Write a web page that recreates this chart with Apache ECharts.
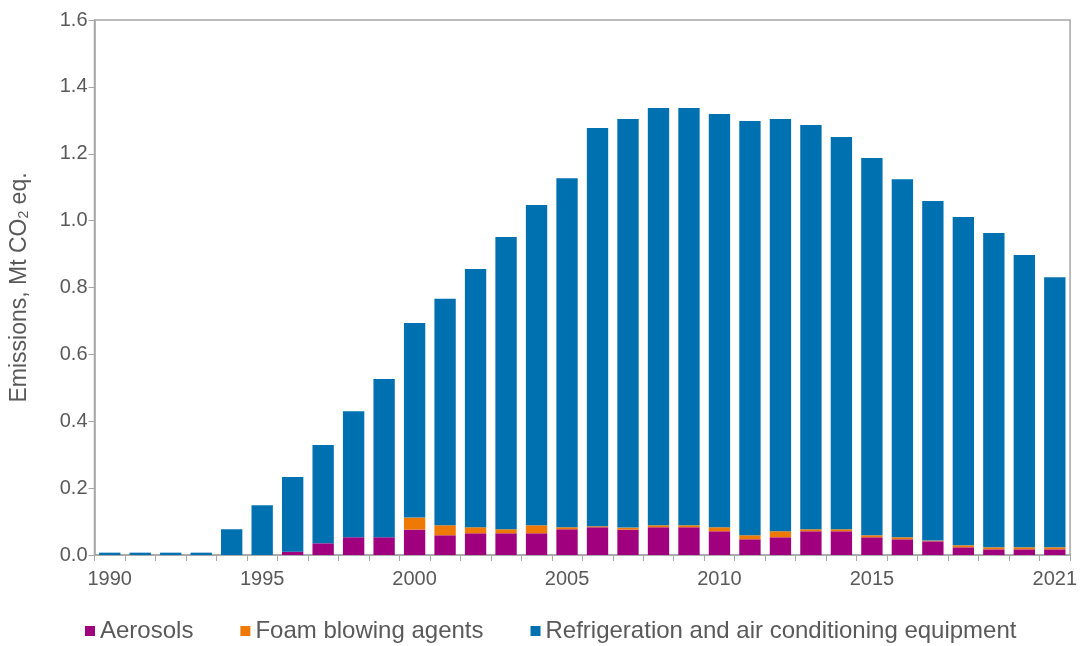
<!DOCTYPE html>
<html>
<head>
<meta charset="utf-8">
<script src="https://cdn.jsdelivr.net/npm/echarts@6/dist/echarts.min.js"></script>
<style>html,body{margin:0;padding:0;background:#fff}#c{width:1080px;height:646px}</style>
</head>
<body>
<div id="c"></div>
<script>
const years = ['1990','1991','1992','1993','1994','1995','1996','1997','1998','1999','2000','2001','2002','2003','2004','2005','2006','2007','2008','2009','2010','2011','2012','2013','2014','2015','2016','2017','2018','2019','2020','2021'];
const shownYears = ['1990','1995','2000','2005','2010','2015','2021'];
const aerosols = [0,0,0,0,0,0,0.010,0.035,0.053,0.053,0.076,0.059,0.065,0.065,0.065,0.077,0.083,0.076,0.083,0.083,0.071,0.047,0.053,0.071,0.071,0.053,0.047,0.041,0.023,0.017,0.017,0.017];
const foam = [0,0,0,0,0,0,0,0,0,0,0.036,0.030,0.018,0.012,0.024,0.006,0.003,0.006,0.006,0.006,0.012,0.012,0.018,0.006,0.006,0.006,0.006,0.002,0.006,0.006,0.006,0.006];
const totals = [0.007,0.007,0.007,0.007,0.077,0.149,0.233,0.329,0.430,0.526,0.694,0.766,0.855,0.951,1.047,1.127,1.277,1.304,1.337,1.337,1.319,1.298,1.304,1.286,1.250,1.187,1.124,1.059,1.011,0.963,0.897,0.831];
const refrig = totals.map((t,i)=>+(t-aerosols[i]-foam[i]).toFixed(3));
const yTicks = [0,0.2,0.4,0.6,0.8,1.0,1.2,1.4,1.6];

const chart = echarts.init(document.getElementById('c'));
const font = 'Liberation Sans, Arial, sans-serif';
const grey = '#595959';
chart.setOption({
  animation:false,
  textStyle:{fontFamily:font},
  grid:{left:94,right:7,top:20,bottom:91,show:true,borderColor:'#a6a6a6',borderWidth:1.5},
  legend:{
    top:614,left:80,itemWidth:10,itemHeight:10,itemGap:47,icon:'rect',
    textStyle:{fontSize:24,color:grey,fontFamily:font},
    data:['Aerosols','Foam blowing agents','Refrigeration and air conditioning equipment']
  },
  xAxis:{
    type:'category',data:years,
    axisLine:{lineStyle:{color:'#a6a6a6',width:1.5}},
    axisTick:{show:true,interval:0,length:6,lineStyle:{color:'#a6a6a6'}},
    axisLabel:{interval:0,fontSize:20,color:grey,margin:14,
      formatter:v=>shownYears.includes(v)?v:''}
  },
  yAxis:{
    type:'value',min:yTicks[0],max:yTicks[yTicks.length-1],interval:0.2,
    name:'{a|Emissions, Mt CO}{s|2}{a| eq.}',nameLocation:'middle',nameGap:63,
    nameTextStyle:{rich:{a:{fontSize:23,color:grey,fontFamily:font},s:{fontSize:14,color:grey,fontFamily:font,padding:[10,0,0,0]}}},
    axisLine:{show:true,lineStyle:{color:'#a6a6a6',width:1.5}},
    axisTick:{show:true,length:6,lineStyle:{color:'#a6a6a6'}},
    splitLine:{show:false},
    axisLabel:{fontSize:20,color:grey,margin:7,formatter:v=>v.toFixed(1)}
  },
  series:[
    {name:'Aerosols',type:'bar',stack:'s',data:aerosols,barCategoryGap:'30%',itemStyle:{color:'#a0007e'}},
    {name:'Foam blowing agents',type:'bar',stack:'s',data:foam,itemStyle:{color:'#ee7a05'}},
    {name:'Refrigeration and air conditioning equipment',type:'bar',stack:'s',data:refrig,itemStyle:{color:'#0071b0'}}
  ]
});
</script>
</body>
</html>
